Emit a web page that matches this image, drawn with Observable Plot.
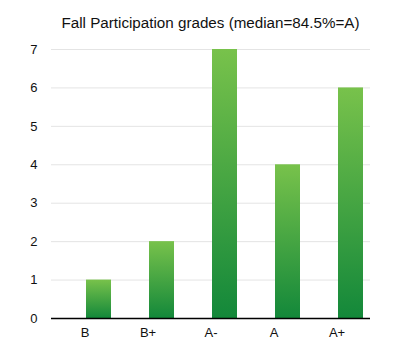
<!DOCTYPE html>
<html>
<head>
<meta charset="utf-8">
<script src="https://cdn.jsdelivr.net/npm/d3@7"></script>
<script src="https://cdn.jsdelivr.net/npm/@observablehq/plot@0.6"></script>
<style>
  html, body { margin: 0; padding: 0; background: #fff; }
  #title { position: absolute; left: 51px; width: 319px; top: 14px; text-align: center;
           font-family: "Liberation Sans", Arial, sans-serif; font-size: 15.2px; color: #111; white-space: nowrap; }
  #chart { position: absolute; left: 0; top: 0; }
</style>
</head>
<body>
<div id="chart"></div>
<div id="title">Fall Participation grades (median=84.5%=A)</div>
<script>
const grades = ["B", "B+", "A-", "A", "A+"];
const counts = [1, 2, 7, 4, 6];
const yTicks = [0, 1, 2, 3, 4, 5, 6, 7];

const data = grades.map((g, i) => ({grade: g, count: counts[i]}));

const plot = Plot.plot({
  width: 394,
  height: 352,
  marginLeft: 51,
  marginRight: 24,
  marginTop: 49,
  marginBottom: 34,
  style: {fontFamily: "'Liberation Sans', Arial, sans-serif", fontSize: "13px", color: "#111", background: "#fff"},
  x: {domain: grades, label: null, padding: 0, tickSize: 0, tickPadding: 9},
  y: {domain: [0, 7], ticks: yTicks, tickFormat: "d", label: null, tickSize: 0, tickPadding: 14},
  marks: [
    Plot.gridY(yTicks.filter(d => d > 0), {stroke: "#e4e4e4", strokeOpacity: 1, strokeWidth: 1}),
    Plot.barY(data, {x: "grade", y: "count", fill: "url(#barGrad)", insetLeft: 33, insetRight: 5}),
    Plot.ruleY([0], {stroke: "#000", strokeWidth: 1.5})
  ]
});

const svgNS = "http://www.w3.org/2000/svg";
const defs = document.createElementNS(svgNS, "defs");
const grad = document.createElementNS(svgNS, "linearGradient");
grad.setAttribute("id", "barGrad");
grad.setAttribute("x1", "0"); grad.setAttribute("y1", "0");
grad.setAttribute("x2", "0"); grad.setAttribute("y2", "1");
[["0%", "#78c24b"], ["100%", "#13883a"]].forEach(([o, c]) => {
  const s = document.createElementNS(svgNS, "stop");
  s.setAttribute("offset", o); s.setAttribute("stop-color", c);
  grad.appendChild(s);
});
defs.appendChild(grad);
plot.insertBefore(defs, plot.firstChild);

document.getElementById("chart").appendChild(plot);
</script>
</body>
</html>
